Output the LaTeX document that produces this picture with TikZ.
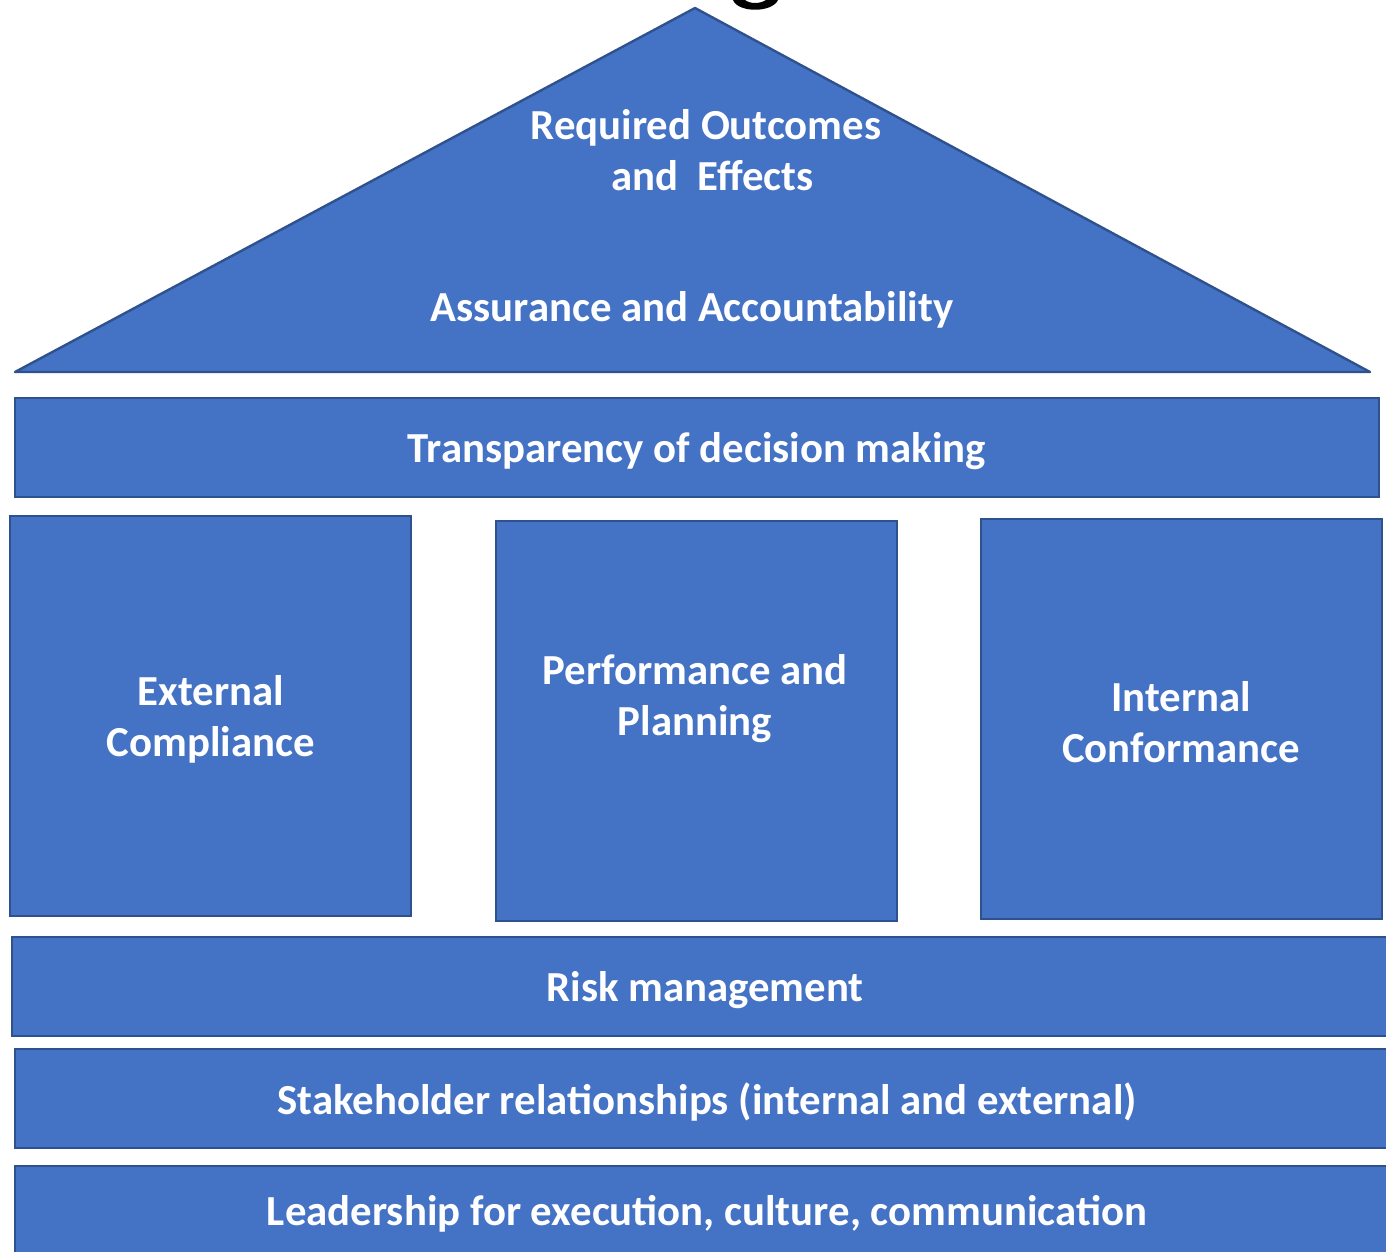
\documentclass[tikz,border=0pt]{standalone}
\usepackage{fontspec}
\setmainfont{Carlito}
\begin{document}
\begin{tikzpicture}[x=0.5pt,y=-0.5pt,
  blk/.style={fill=blockblue,draw=edgeblue,line width=1.2pt,rectangle,inner sep=0pt},
  lbl/.style={text=white,font=\fontsize{21.4}{25.5}\selectfont\bfseries,align=center,inner sep=0pt}]
\definecolor{blockblue}{HTML}{4472C4}
\definecolor{edgeblue}{HTML}{2F528F}
\useasboundingbox (0,0) rectangle (1386,1252);
% tail of a heading glyph above the roof
\fill[black] (733,0) .. controls (738,13) and (772,13) .. (778,0) -- (766,0) .. controls (760,4) and (750,4) .. (745,0) -- cycle;
% roof
\coordinate (apex) at (695,8);
\coordinate (eaveL) at (15,372);
\coordinate (eaveR) at (1370,372);
\filldraw[fill=blockblue,draw=edgeblue,line width=1.2pt,line join=round] (apex) -- (eaveR) -- (eaveL) -- cycle;
\node[lbl] (outcomes) at (706,150) {Required Outcomes\\\hspace*{6.5pt}and\ \ Effects};
\node[lbl] (assurance) at (692,310) {Assurance and Accountability};
% beam
\node[blk,minimum width=682pt,minimum height=49.5pt] (beam) at (697,447.5) {};
\node[lbl] (beamtxt) at (697,451) {Transparency of decision making};
% pillars
\node[blk,minimum width=200.5pt,minimum height=200pt] (ext) at (210.5,716) {};
\node[lbl] (exttxt) at (211,719) {External\\Compliance};
\node[blk,minimum width=200.5pt,minimum height=200pt] (perf) at (696.5,721) {};
\node[lbl] (perftxt) at (695,699) {Performance and\\Planning};
\node[blk,minimum width=200.5pt,minimum height=200pt] (int) at (1181.5,719) {};
\node[lbl] (inttxt) at (1181,722) {Internal\\Conformance};
% foundation layers
\node[blk,minimum width=690pt,minimum height=49.5pt] (risk) at (702,986.5) {};
\node[lbl] (risktxt) at (705,990) {Risk management};
\node[blk,minimum width=688.5pt,minimum height=49.5pt] (stake) at (703.5,1098.5) {};
\node[lbl] (staketxt) at (707,1102) {Stakeholder relationships (internal and external)};
\node[blk,minimum width=688.5pt,minimum height=50pt] (lead) at (703.5,1216) {};
\node[lbl] (leadtxt) at (707,1214) {Leadership for execution, culture, communication};
\end{tikzpicture}
\end{document}
